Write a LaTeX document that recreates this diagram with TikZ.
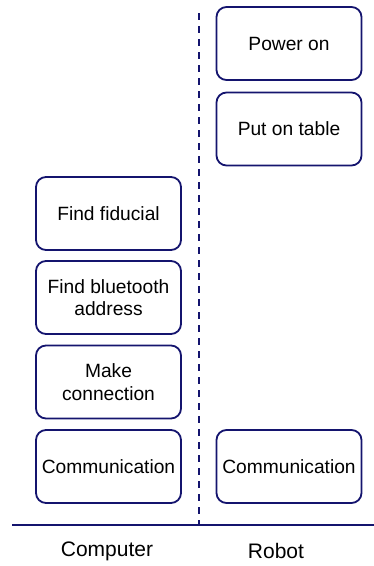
\documentclass[tikz,border=0pt]{standalone}
\usepackage{fontspec}
\setmainfont{Liberation Sans}
\definecolor{navy}{RGB}{20,20,110}
\begin{document}
\begin{tikzpicture}[x=1pt,y=-1pt,
  stepbox/.style={draw=navy, line width=1.8pt, rounded corners=10pt, minimum width=145pt, minimum height=73pt, align=center, inner sep=0pt, font=\fontsize{19.2}{22.5}\selectfont},
  lbl/.style={font=\fontsize{21}{24}\selectfont}]
\useasboundingbox (0,0) rectangle (374,566);
\node[stepbox] (power) at (289,43.5) {Power on};
\node[stepbox] (table) at (289,129) {Put on table};
\node[stepbox] (fid) at (108.5,213.5) {Find fiducial};
\node[stepbox] (bt) at (108.5,297.5) {Find bluetooth\\address};
\node[stepbox] (conn) at (108.5,382) {Make\\connection};
\node[stepbox] (commL) at (108.5,466.5) {Communication};
\node[stepbox] (commR) at (289,466.5) {Communication};
\coordinate (dtop) at (199,13);
\coordinate (dbot) at (199,525);
\coordinate (hl) at (12,525);
\coordinate (hr) at (374,525);
\draw[navy, line width=2.2pt, dash pattern=on 7pt off 6pt] (dtop) -- (dbot);
\draw[navy, line width=1.6pt] (hl) -- (hr);
\node[lbl] (comp) at (107,551) {Computer};
\node[lbl] (robot) at (276,551) {Robot};
\end{tikzpicture}
\end{document}
